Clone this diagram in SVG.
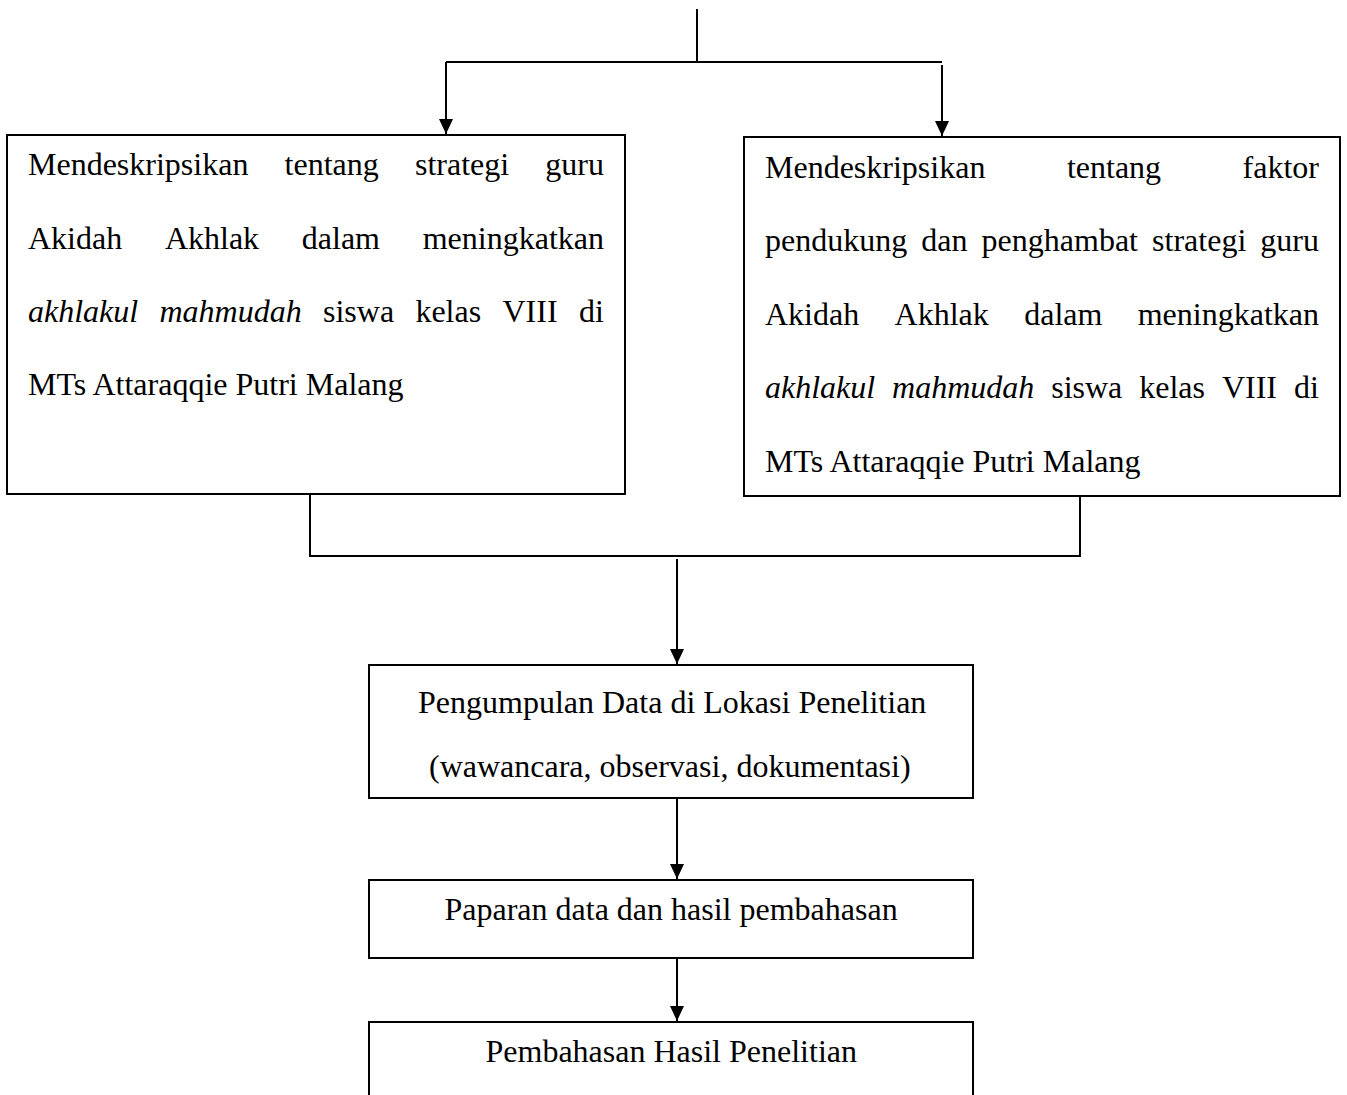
<svg xmlns="http://www.w3.org/2000/svg" width="1347" height="1095" viewBox="0 0 1347 1095">
<style>
.box{fill:#fff;stroke:#000;stroke-width:2}
.ln{fill:none;stroke:#000;stroke-width:2}
.ar{fill:none;stroke:#000;stroke-width:2;marker-end:url(#arr)}
text{font-family:"Liberation Serif","Times New Roman",serif;font-size:32px;fill:#000}
.it{font-style:italic}
.e{text-anchor:end}
</style>
<defs>
<marker id="arr" markerUnits="userSpaceOnUse" markerWidth="15" markerHeight="14" refX="15" refY="7" orient="auto" viewBox="0 0 15 14">
<path d="M0,0 L15,7 L0,14 Z" fill="#000"/>
</marker>
</defs>
<rect width="1347" height="1095" fill="#fff"/>
<g id="connectors">
<path class="ln" d="M697,9 V62 M446,62 H942"/>
<path class="ar" d="M446,62 V134"/>
<path class="ar" d="M942,65 V136"/>
<path class="ln" d="M310,494 V556 H1080 V496"/>
<path class="ar" d="M677,559 V664"/>
<path class="ar" d="M677,798 V879"/>
<path class="ar" d="M677,958 V1021"/>
</g>
<g id="node-left">
<rect class="box" x="7" y="135" width="618" height="359"/>
<text x="28" y="175">Mendeskripsikan</text>
<text x="284.6" y="175">tentang</text>
<text x="415" y="175">strategi</text>
<text class="e" x="604" y="175">guru</text>
<text x="28" y="248.5">Akidah</text>
<text x="164.9" y="248.5">Akhlak</text>
<text x="301.8" y="248.5">dalam</text>
<text class="e" x="604" y="248.5">meningkatkan</text>
<text class="it" x="28" y="322">akhlakul</text>
<text class="it" x="159.5" y="322">mahmudah</text>
<text x="323" y="322">siswa</text>
<text x="415.4" y="322">kelas</text>
<text x="502.5" y="322">VIII</text>
<text class="e" x="604" y="322">di</text>
<text x="28" y="395">MTs Attaraqqie Putri Malang</text>
</g>
<g id="node-right">
<rect class="box" x="744" y="137" width="596" height="359"/>
<text x="765" y="177.5">Mendeskripsikan</text>
<text x="1066.9" y="177.5">tentang</text>
<text class="e" x="1319" y="177.5">faktor</text>
<text x="765" y="251">pendukung</text>
<text x="921.3" y="251">dan</text>
<text x="981.6" y="251">penghambat</text>
<text x="1152.1" y="251">strategi</text>
<text class="e" x="1319" y="251">guru</text>
<text x="765" y="324.5">Akidah</text>
<text x="894.6" y="324.5">Akhlak</text>
<text x="1024.2" y="324.5">dalam</text>
<text class="e" x="1319" y="324.5">meningkatkan</text>
<text class="it" x="765" y="398">akhlakul</text>
<text class="it" x="892.1" y="398">mahmudah</text>
<text x="1051.2" y="398">siswa</text>
<text x="1139.2" y="398">kelas</text>
<text x="1221.9" y="398">VIII</text>
<text class="e" x="1319" y="398">di</text>
<text x="765" y="471.5">MTs Attaraqqie Putri Malang</text>
</g>
<g id="node-pengumpulan">
<rect class="box" x="369" y="665" width="604" height="133"/>
<text x="418" y="713">Pengumpulan Data di Lokasi Penelitian</text>
<text x="429" y="777">(wawancara, observasi, dokumentasi)</text>
</g>
<g id="node-paparan">
<rect class="box" x="369" y="880" width="604" height="78"/>
<text x="444.5" y="920">Paparan data dan hasil pembahasan</text>
</g>
<g id="node-pembahasan">
<rect class="box" x="369" y="1022" width="604" height="100"/>
<text x="485.5" y="1062">Pembahasan Hasil Penelitian</text>
</g>
</svg>
